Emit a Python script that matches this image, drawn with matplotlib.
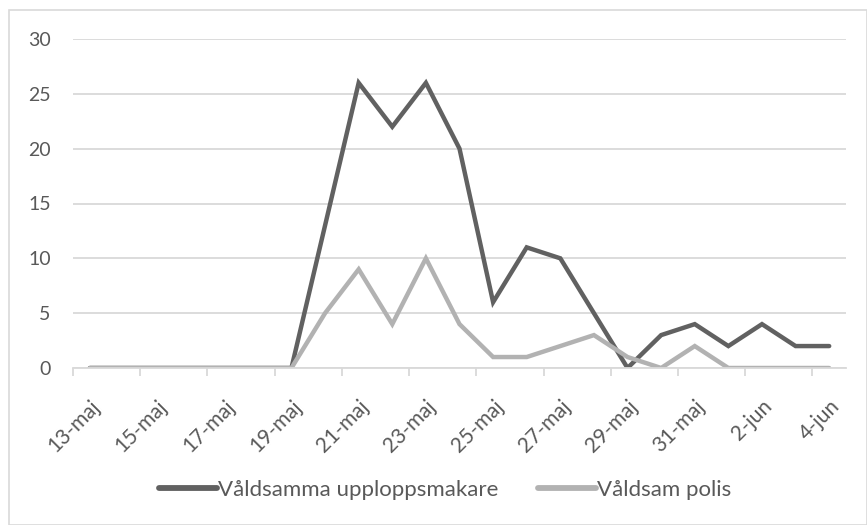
import matplotlib
matplotlib.use("Agg")
import matplotlib.pyplot as plt
from matplotlib.patches import Rectangle
from matplotlib.transforms import ScaledTranslation

dates = ["13-maj", "14-maj", "15-maj", "16-maj", "17-maj", "18-maj", "19-maj",
         "20-maj", "21-maj", "22-maj", "23-maj", "24-maj", "25-maj", "26-maj",
         "27-maj", "28-maj", "29-maj", "30-maj", "31-maj", "1-jun", "2-jun",
         "3-jun", "4-jun"]
rioters = [0, 0, 0, 0, 0, 0, 0, 13, 26, 22, 26, 20, 6, 11, 10, 5, 0, 3, 4, 2, 4, 2, 2]
police = [0, 0, 0, 0, 0, 0, 0, 5, 9, 4, 10, 4, 1, 1, 2, 3, 1, 0, 2, 0, 0, 0, 0]
series_names = ["Våldsamma upploppsmakare", "Våldsam polis"]
yticks = [0, 5, 10, 15, 20, 25, 30]

plt.rcParams["font.family"] = ["Lato", "DejaVu Sans"]
TXT = "#595959"
GRID = "#d9d9d9"

W, H = 867, 525
fig = plt.figure(figsize=(W / 100, H / 100), dpi=100)
fig.patches.append(Rectangle((9 / W, 0.5 / H), (W - 9.5) / W, (H - 9.5 - 0.5) / H,
                             transform=fig.transFigure, fill=False,
                             edgecolor=GRID, linewidth=1.2))

ax = fig.add_axes([73 / W, 1 - 368 / H, (846 - 73) / W, (368 - 39) / H])
x = list(range(len(dates)))
ax.plot(x, rioters, color="#616161", linewidth=3.2, label=series_names[0],
        solid_joinstyle="miter", solid_capstyle="round")
ax.plot(x, police, color="#b2b2b2", linewidth=3.2, label=series_names[1],
        solid_joinstyle="miter", solid_capstyle="round")

ax.set_xlim(-0.5, len(dates) - 0.5)
ax.set_ylim(0, 30)
ax.set_yticks(yticks)
ax.set_yticklabels([str(v) for v in yticks], fontsize=14, color=TXT)
ax.yaxis.grid(True, color=GRID, linewidth=1.3)
ax.set_axisbelow(True)
ax.tick_params(axis="y", length=0, pad=16)

ax.set_xticks(x[::2])
ax.set_xticklabels(dates[::2], rotation=45, ha="right", rotation_mode="anchor",
                   fontsize=15, color=TXT)
shift = ScaledTranslation(7 / 100, 0, fig.dpi_scale_trans)
for lbl in ax.get_xticklabels():
    lbl.set_transform(lbl.get_transform() + shift)
ax.set_xticks([i - 0.5 for i in range(0, len(dates) + 1, 2)], minor=True)
ax.tick_params(axis="x", which="major", length=0, pad=20)
ax.tick_params(axis="x", which="minor", length=6, color=GRID, width=1.3)

for s in ["top", "right", "left"]:
    ax.spines[s].set_visible(False)
ax.spines["bottom"].set_color(GRID)
ax.spines["bottom"].set_linewidth(1.3)

leg = fig.legend(loc="center", bbox_to_anchor=(445 / W, 1 - 490 / H), ncol=2,
                 frameon=False, fontsize=16, handlelength=2.6, handletextpad=0.05,
                 columnspacing=1.8, labelcolor=TXT)
for line in leg.get_lines():
    line.set_linewidth(4.2)

fig.savefig("out.png", dpi=100)
